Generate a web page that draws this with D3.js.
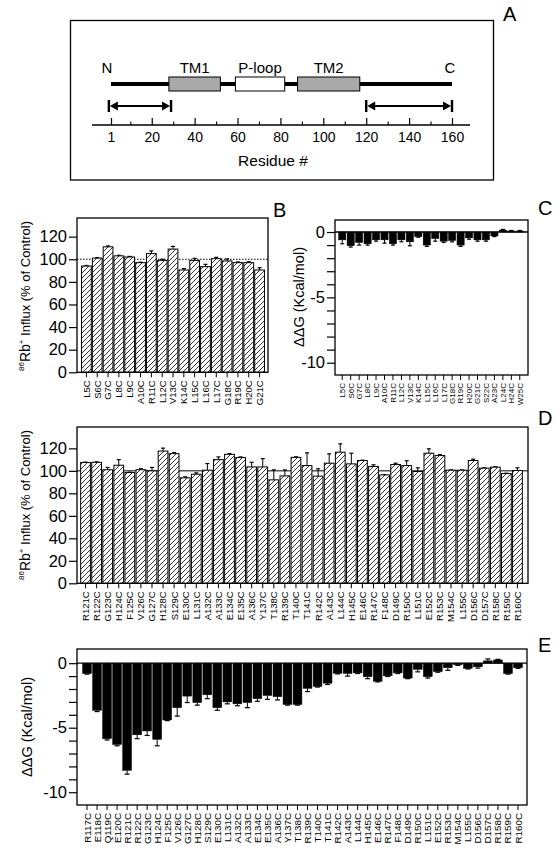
<!DOCTYPE html>
<html><head><meta charset="utf-8">
<script src="https://cdn.jsdelivr.net/npm/d3@7"></script>
<style>
body{margin:0;background:#fff;}
svg{display:block;}
text{font-family:"Liberation Sans",Arial,Helvetica,sans-serif;fill:#000;}
</style>
</head><body>
<svg id="c" width="558" height="853"></svg>
<script>
// ---------------- DATA ----------------
// Panel A: schematic
const residueTicks = [1,20,40,60,80,100,120,140,160];
const residueMinorTicks = [10,30,50,70,90,110,130,150];
const domainNames = ["TM1","P-loop","TM2"];
const domainStarts = [28,59,88];
const domainEnds = [52,82,117];
const arrowStarts = [0,120];
const arrowEnds = [29,160];

// Panel B: 86Rb+ influx, N-terminal mutants
const bLabels = ["L5C","S6C","G7C","L8C","L9C","A10C","R11C","L12C","V13C","K14C","L15C","L16C","L17C","G18C","R19C","H20C","G21C"];
const bValues = [94,101,111,103,102,97,105,99,109,90.5,99,93.5,100.5,98.5,97,97,90.5];
const bErrors = [0.5,0.5,0.8,0.5,0.5,0.4,2.4,1,2.4,1.2,1.8,2,1.2,1.8,0.6,0.8,2];

// Panel C: ddG, N-terminal mutants
const cLabels = ["L5C","S6C","G7C","L8C","L9C","A10C","R11C","L12C","V13C","K14C","L15C","L16C","L17C","G18C","R19C","H20C","G21C","S22C","A23C","L24C","H24C","W25C"];
const cValues = [-0.6,-1.05,-0.8,-0.9,-0.6,-0.6,-0.9,-0.6,-0.75,-0.35,-1.0,-0.5,-0.7,-0.65,-1.0,-0.45,-0.6,-0.6,-0.3,0.15,0.08,0.08];
const cErrors = [0.3,0.1,0.2,0.1,0.1,0.25,0.1,0.15,0.3,0.05,0.1,0.2,0.1,0.1,0.1,0.1,0.1,0.1,0.05,0.05,0.04,0.04];

// Panel D: 86Rb+ influx, C-terminal mutants
const dLabels = ["R121C","R122C","G123C","H124C","F125C","V126C","G127C","H128C","S129C","E130C","L131C","A132C","A133C","E134C","E135C","A136C","Y137C","T138C","R139C","T140C","T141C","R142C","A143C","L144C","H145C","E146C","R147C","F148C","D149C","R150C","L151C","E152C","R153C","M154C","L155C","D156C","D157C","R158C","R159C","R160C"];
const dValues = [107.4,107.6,101,105,98.5,101,100,117.6,115.3,93.8,97,100.6,110,114.7,111.8,103.5,103.5,92,95.5,112,104.7,95.3,106.8,116.6,106.2,109.2,103.9,96.4,105.6,104.7,99.4,115.7,113.6,100.6,100.6,109.2,102.4,103.3,97.6,100.3];
const dErrors = [0.4,0.4,2,5,0.3,0.9,3,2.6,0.9,0.9,1.2,5.9,2.4,0.6,0.6,4.1,7.4,8.9,5.3,0.5,11.3,6.5,8.3,7.4,9.5,0.3,1.5,0.3,1.2,4.3,3.3,3.9,0.9,0.3,0.3,1.2,0.3,0.3,0.3,2.4];

// Panel E: ddG, C-terminal mutants
const eLabels = ["R117C","E118C","Q119C","E120C","R121C","R122C","G123C","H124C","F125C","V126C","G127C","H128C","S129C","E130C","L131C","A132C","A133C","E134C","E135C","A136C","Y137C","T138C","R139C","T140C","T141C","R142C","A143C","L144C","H145C","E146C","R147C","F148C","D149C","R150C","L151C","E152C","R153C","M154C","L155C","D156C","D157C","R158C","R159C","R160C"];
const eValues = [-0.8,-3.65,-5.85,-6.3,-8.3,-5.55,-5.25,-5.9,-4.4,-3.45,-2.55,-3.05,-2.45,-3.45,-3.0,-3.15,-3.05,-2.75,-2.5,-2.6,-3.2,-3.2,-1.95,-1.8,-1.55,-0.78,-0.8,-0.75,-1.05,-1.4,-0.98,-0.75,-1.15,-0.47,-1.05,-0.65,-0.35,-0.12,-0.4,-0.28,0.18,0.25,-0.8,-0.35];
const eErrors = [0.05,0.1,0.1,0.1,0.3,0.3,0.35,0.5,0.05,0.65,0.5,0.2,0.3,0.2,0.15,0.15,0.4,0.2,0.3,0.25,0.05,0.05,0.25,0.05,0.1,0.05,0.2,0.05,0.15,0.05,0.05,0.05,0.05,0.2,0.1,0.05,0.2,0.05,0.05,0.1,0.15,0.05,0.05,0.05];

const ddgTicks = [0,-1,-2,-3,-4,-5,-6,-7,-8,-9,-10];
const ddgTickLabels = [0,-5,-10];
const influxTicks = [0,20,40,60,80,100,120];

// ---------------- DRAW ----------------
const svg = d3.select("#c");
const defs = svg.append("defs");
const pat = defs.append("pattern").attr("id","hatch")
  .attr("patternUnits","userSpaceOnUse").attr("width",5).attr("height",5);
pat.append("rect").attr("width",5).attr("height",5).attr("fill","#fff");
pat.append("path").attr("d","M-1,1 L1,-1 M0,5 L5,0 M4,6 L6,4")
  .attr("stroke","#111").attr("stroke-width",0.85);

// ---- Panel A ----
const xA = d3.scaleLinear().domain([1,160]).range([111,452]);
const gA = svg.append("g");
gA.append("rect").attr("x",70.5).attr("y",20.5).attr("width",423).attr("height",159.5)
  .attr("fill","none").attr("stroke","#000").attr("stroke-width",1.3);
gA.append("line").attr("x1",xA(1)).attr("x2",xA(160)).attr("y1",84).attr("y2",84)
  .attr("stroke","#000").attr("stroke-width",4);
domainNames.forEach((n,i)=>{
  gA.append("rect").attr("x",xA(domainStarts[i])).attr("y",77)
    .attr("width",xA(domainEnds[i])-xA(domainStarts[i])).attr("height",14)
    .attr("fill", n==="P-loop" ? "#fff" : "#a9a9a9").attr("stroke","#000").attr("stroke-width",1);
  gA.append("text").attr("x",(xA(domainStarts[i])+xA(domainEnds[i]))/2).attr("y",73)
    .attr("text-anchor","middle").attr("font-size",15).text(n);
});
gA.append("text").attr("x",xA(1)-4).attr("y",73).attr("text-anchor","middle").attr("font-size",15).text("N");
gA.append("text").attr("x",xA(160)-2).attr("y",73).attr("text-anchor","middle").attr("font-size",15).text("C");
// arrows
arrowStarts.forEach((s,i)=>{
  const a = xA(s), b = xA(arrowEnds[i]), yy = 106;
  gA.append("line").attr("x1",a+4).attr("x2",b-4).attr("y1",yy).attr("y2",yy).attr("stroke","#000").attr("stroke-width",2.2);
  [a,b].forEach(p=>gA.append("line").attr("x1",p).attr("x2",p).attr("y1",yy-6).attr("y2",yy+6).attr("stroke","#000").attr("stroke-width",2.4));
  gA.append("path").attr("d",`M${a+1},${yy} L${a+9},${yy-4.5} L${a+9},${yy+4.5} Z`).attr("fill","#000");
  gA.append("path").attr("d",`M${b-1},${yy} L${b-9},${yy-4.5} L${b-9},${yy+4.5} Z`).attr("fill","#000");
});
// residue axis
gA.append("line").attr("x1",92).attr("x2",470).attr("y1",125).attr("y2",125).attr("stroke","#000").attr("stroke-width",1.3);
const axA = gA.append("g").attr("transform","translate(0,125)")
  .call(d3.axisBottom(xA).tickValues(residueTicks).tickSizeInner(-7).tickSizeOuter(0).tickPadding(7).tickFormat(d=>String(d)));
axA.select(".domain").remove();
axA.selectAll("text").attr("font-size",14).attr("font-family",null);
axA.selectAll("line").attr("stroke-width",1.2);
const axAm = gA.append("g").attr("transform","translate(0,125)")
  .call(d3.axisBottom(xA).tickValues(residueMinorTicks).tickSizeInner(-3.5).tickSizeOuter(0).tickFormat(""));
axAm.select(".domain").remove();
axAm.selectAll("line").attr("stroke-width",1.1);
gA.append("text").attr("x",273).attr("y",166).attr("text-anchor","middle").attr("font-size",15.5).text("Residue #");
svg.append("text").attr("x",503).attr("y",21).attr("font-size",20).text("A");

// ---- generic bar panel ----
function barPanel(cfg){
  const g = svg.append("g");
  const x = d3.scaleBand().domain(cfg.labels).range(cfg.bandRange).paddingInner(cfg.pad).paddingOuter(cfg.pad/2);
  const y = d3.scaleLinear().domain(cfg.domain).range([cfg.y1,cfg.y0]);
  const bw = x.bandwidth();
  if (cfg.ref !== undefined){
    g.append("line").attr("x1",cfg.x0).attr("x2",cfg.x1).attr("y1",y(cfg.ref)).attr("y2",y(cfg.ref))
      .attr("stroke","#000").attr("stroke-width",cfg.refDash?1.2:1)
      .attr("stroke-dasharray",cfg.refDash?"1.5,1.5":null);
  }
  // error bars
  cfg.labels.forEach((l,i)=>{
    const v = cfg.values[i], e = cfg.errors[i];
    const cx = x(l)+bw/2;
    const end = v>=0 ? v+e : v-e;
    g.append("line").attr("x1",cx).attr("x2",cx).attr("y1",y(v)).attr("y2",y(end)).attr("stroke","#000").attr("stroke-width",1);
    g.append("line").attr("x1",cx-cfg.cap/2).attr("x2",cx+cfg.cap/2).attr("y1",y(end)).attr("y2",y(end)).attr("stroke","#000").attr("stroke-width",1.2);
  });
  // bars
  g.selectAll("rect.bar").data(cfg.values).join("rect").attr("class","bar")
    .attr("x",(d,i)=>x(cfg.labels[i]))
    .attr("width",bw)
    .attr("y",d=>y(Math.max(0,d)))
    .attr("height",d=>Math.abs(y(d)-y(0)))
    .attr("fill",cfg.hatched?"url(#hatch)":"#000")
    .attr("stroke","#000").attr("stroke-width",cfg.hatched?1:0.5);
  if (cfg.zeroLine){
    g.append("line").attr("x1",cfg.x0).attr("x2",cfg.x1).attr("y1",y(0)).attr("y2",y(0)).attr("stroke","#000").attr("stroke-width",1.3);
  }
  // frame
  g.append("rect").attr("x",cfg.x0).attr("y",cfg.y0).attr("width",cfg.x1-cfg.x0).attr("height",cfg.y1-cfg.y0)
    .attr("fill","none").attr("stroke","#000").attr("stroke-width",1.3);
  // y axis
  const ya = g.append("g").attr("transform",`translate(${cfg.x0},0)`)
    .call(d3.axisLeft(y).tickValues(cfg.yTicks).tickSizeInner(8).tickSizeOuter(0).tickPadding(2)
      .tickFormat(d=>cfg.yTickLabels.includes(d)?String(d):""));
  ya.select(".domain").remove();
  ya.selectAll("line").attr("stroke-width",1.2);
  ya.selectAll("text").attr("font-size",16.5).attr("font-family",null);
  // x ticks
  const xa = g.append("g").attr("transform",`translate(0,${cfg.y1})`)
    .call(d3.axisBottom(x).tickSizeInner(5).tickSizeOuter(0).tickFormat(""));
  xa.select(".domain").remove();
  xa.selectAll("line").attr("stroke-width",1);
  // x labels
  cfg.labels.forEach(l=>{
    g.append("text").attr("transform",`translate(${x(l)+bw/2},${cfg.y1+8}) rotate(-90)`)
      .attr("text-anchor","end").attr("dy","0.36em").attr("font-size",cfg.labelSize).text(l);
  });
  // panel letter
  svg.append("text").attr("x",cfg.letterX).attr("y",cfg.letterY).attr("font-size",20).text(cfg.letter);
  return g;
}

function influxTitle(cx, cy){
  const t = svg.append("text").attr("transform",`translate(${cx},${cy}) rotate(-90)`).attr("text-anchor","middle");
  t.append("tspan").attr("font-size",8).attr("dy",-6).text("86");
  t.append("tspan").attr("font-size",14).attr("dy",6).text("Rb");
  t.append("tspan").attr("font-size",8).attr("dy",-6).text("+");
  t.append("tspan").attr("font-size",13).attr("dy",6).text(" Influx (% of Control)");
}
function ddgTitle(cx, cy){
  svg.append("text").attr("transform",`translate(${cx},${cy}) rotate(-90)`).attr("text-anchor","middle")
    .attr("font-size",14.5).text("\u0394\u0394G (Kcal/mol)");
}

// ---- Panel B ----
barPanel({x0:77,x1:268,y0:218,y1:372.3,domain:[0,136.5],labels:bLabels,values:bValues,errors:bErrors,
  hatched:true,bandRange:[81,265],pad:0.1,ref:100,refDash:true,cap:4,
  yTicks:influxTicks,yTickLabels:influxTicks,labelSize:9.5,letter:"B",letterX:273,letterY:217});
influxTitle(30,296);

// ---- Panel C ----
barPanel({x0:335,x1:528,y0:220,y1:375,domain:[-10.94,0.92],labels:cLabels,values:cValues,errors:cErrors,
  hatched:false,bandRange:[338,524],pad:0.15,zeroLine:true,cap:4,
  yTicks:ddgTicks,yTickLabels:ddgTickLabels,labelSize:8,letter:"C",letterX:538,letterY:215});
ddgTitle(304,297);

// ---- Panel D ----
barPanel({x0:77,x1:528,y0:427,y1:583.3,domain:[0,139],labels:dLabels,values:dValues,errors:dErrors,
  hatched:true,bandRange:[80,523],pad:0.12,ref:100,refDash:false,cap:4,
  yTicks:influxTicks,yTickLabels:influxTicks,labelSize:9.5,letter:"D",letterX:538,letterY:425});
influxTitle(30,505);

// ---- Panel E ----
barPanel({x0:77,x1:527,y0:649,y1:805,domain:[-10.99,1.1],labels:eLabels,values:eValues,errors:eErrors,
  hatched:false,bandRange:[82,523],pad:0.12,zeroLine:true,cap:5,
  yTicks:ddgTicks,yTickLabels:ddgTickLabels,labelSize:9.8,letter:"E",letterX:538,letterY:652});
ddgTitle(32,727);
</script>
</body></html>
